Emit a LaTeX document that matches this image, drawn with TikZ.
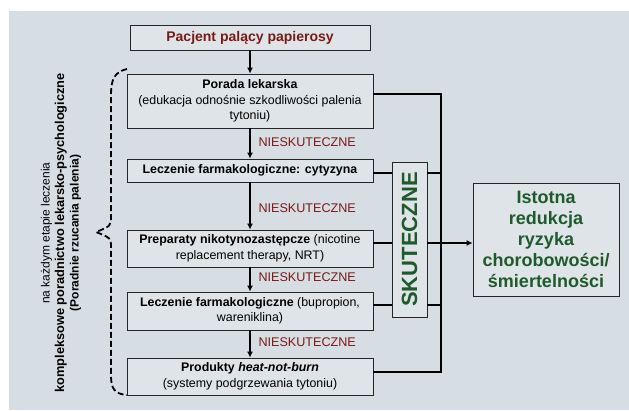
\documentclass[tikz,border=0pt]{standalone}
\usepackage{fontspec}
\setmainfont{Liberation Sans}
\usepackage{xcolor}
\usepackage{tikz}
\usetikzlibrary{positioning,calc,arrows.meta}

\definecolor{slide}{HTML}{D6DDE3}
\definecolor{boxfill}{HTML}{DFE4E8}
\definecolor{darkred}{HTML}{7A1A16}
\definecolor{darkgreen}{HTML}{1E5A2C}

\tikzset{
    stepbox/.style={draw=black!85, line width=0.9pt, fill=boxfill, minimum width=246, align=center, inner sep=1pt, font=\fontsize{12.4}{15.5}\selectfont},
    flow/.style={-{Latex[length=6pt,width=6pt]}, line width=2pt},
    bus/.style={line width=2pt},
    fail/.style={anchor=west, text=darkred, font=\fontsize{12.6}{14}\selectfont}
}

\begin{document}
\begin{tikzpicture}[x=1pt,y=-1pt]
    \useasboundingbox (0,0) rectangle (629,410);
    \fill[slide] (9,11) rectangle (629,410);

    % Boxes
    \node[stepbox, minimum width=240, minimum height=25, text=darkred, font=\fontsize{14}{16}\selectfont\bfseries] (pacjent) at (250,37.5) {Pacjent palący papierosy};
    \node[stepbox, minimum height=54] (porada) at (250,101) {\textbf{Porada lekarska}\\(edukacja odnośnie szkodliwości palenia\\tytoniu)};
    \node[stepbox, minimum height=23] (cytyzyna) at (250,170.5) {\textbf{Leczenie farmakologiczne: cytyzyna}};
    \node[stepbox, minimum height=37] (nrt) at (250,248.5) {\textbf{Preparaty nikotynozastępcze} (nicotine\\replacement therapy, NRT)};
    \node[stepbox, minimum height=38] (bupropion) at (250,311) {\textbf{Leczenie farmakologiczne} (bupropion,\\wareniklina)};
    \node[stepbox, minimum height=37] (hnb) at (250,376.5) {\textbf{Produkty \textit{heat-not-burn}}\\(systemy podgrzewania tytoniu)};

    % Arrows down
    \foreach \a/\b in {pacjent/porada, porada/cytyzyna, cytyzyna/nrt, nrt/bupropion, bupropion/hnb} {
        \draw[flow] (\a.south) -- (\b.north);
    }
    \foreach \y [count=\i] in {142,208,277,342} {
        \node[fail] (nies\i) at (255,\y) {NIESKUTECZNE};
    }

    % Skuteczne
    \node[draw=black!85, line width=0.9pt, fill=boxfill, minimum width=155, minimum height=35, rotate=90, text=darkgreen, font=\fontsize{22}{24}\selectfont\bfseries, inner sep=0pt] (skuteczne) at (409.5,239.5) {SKUTECZNE};
    \node[draw=black!85, line width=0.9pt, fill=boxfill, minimum width=146, minimum height=113, align=center, text=darkgreen, font=\fontsize{18}{21}\selectfont\bfseries] (wynik) at (546,239.5) {Istotna\\redukcja\\ryzyka\\chorobowości/\\śmiertelności};

    % Bus
    \coordinate (bus1) at (441,94);
    \coordinate (b2) at (441,173);
    \coordinate (b3) at (441,243);
    \coordinate (b4) at (441,305);
    \coordinate (bus5) at (441,372);
    \draw[bus] (porada.east |- bus1) -- (bus1) -- (bus5) -- (hnb.east |- bus5);
    \foreach \n/\c in {cytyzyna/b2, nrt/b3, bupropion/b4} {
        \draw[bus] (\n.east |- \c) -- (skuteczne.north |- \c);
        \draw[bus] (skuteczne.south |- \c) -- (\c);
    }
    \draw[flow] (b3) -- (wynik.west |- b3);

    % Brace
    \draw[line width=1.8pt, dash pattern=on 6pt off 3pt] (127,69) .. controls (114,72) and (111,80) .. (111,95) -- (111,216) .. controls (111,226) .. (96,232) .. controls (111,238) .. (111,248) -- (111,376) .. controls (111,389) and (115,394) .. (127,395);
    \node[rotate=90, align=center, font=\fontsize{12}{14.5}\selectfont] (etap) at (61,233) {na każdym etapie leczenia\\{\fontsize{12.8}{14.5}\selectfont\bfseries kompleksowe poradnictwo lekarsko-psychologiczne}\\\textbf{(Poradnie rzucania palenia)}};
\end{tikzpicture}
\end{document}
